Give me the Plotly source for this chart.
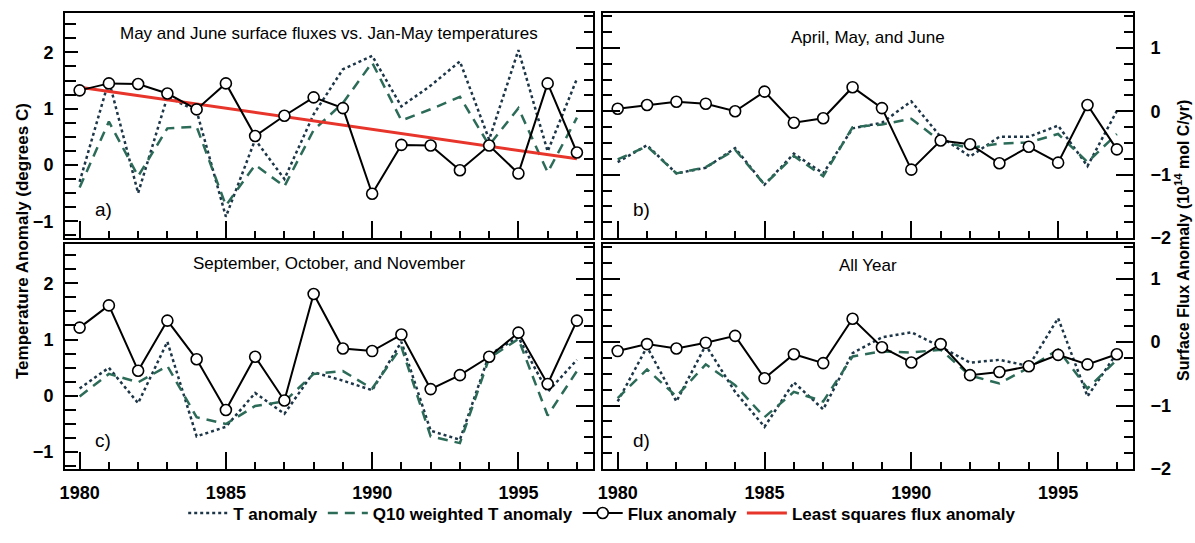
import plotly.graph_objects as go

years = list(range(1980, 1998))

# Panel a: May and June surface fluxes vs. Jan-May temperatures
a_T = [-0.3, 1.5, -0.5, 1.21, 0.96, -0.92, 0.45, -0.25, 0.9, 1.70, 1.94, 1.04, 1.41, 1.84, 0.45, 2.04, 0.24, 1.53]
a_Q = [-0.4, 0.77, -0.2, 0.65, 0.68, -0.72, 0.0, -0.38, 0.62, 1.10, 1.82, 0.79, 0.99, 1.21, 0.35, 1.01, -0.13, 0.84]
a_F = [0.33, 0.44, 0.43, 0.28, 0.03, 0.44, -0.39, -0.07, 0.22, 0.05, -1.30, -0.53, -0.54, -0.93, -0.54, -0.98, 0.44, -0.65]
lsq_years = [1980, 1997]
lsq_flux = [0.38, -0.75]

# Panel b: April, May, and June
b_T = [0.05, 0.35, -0.15, -0.05, 0.3, -0.35, 0.2, -0.15, 0.65, 0.75, 1.13, 0.5, 0.15, 0.5, 0.5, 0.7, -0.02, 0.96]
b_Q = [0.1, 0.33, -0.15, -0.04, 0.27, -0.35, 0.16, -0.2, 0.67, 0.72, 0.82, 0.42, 0.3, 0.38, 0.4, 0.55, 0.05, 0.55]
b_F = [0.04, 0.10, 0.15, 0.12, 0.0, 0.31, -0.18, -0.11, 0.38, 0.05, -0.92, -0.46, -0.52, -0.82, -0.56, -0.81, 0.10, -0.60]

# Panel c: September, October, and November
c_T = [0.13, 0.50, -0.13, 0.96, -0.72, -0.55, 0.05, -0.32, 0.42, 0.27, 0.10, 0.96, -0.62, -0.78, 0.73, 1.04, 0.07, 0.64]
c_Q = [-0.01, 0.39, 0.24, 0.53, -0.38, -0.50, -0.18, -0.10, 0.39, 0.44, 0.13, 0.87, -0.72, -0.84, 0.67, 1.01, -0.35, 0.44]
c_F = [0.23, 0.58, -0.45, 0.34, -0.27, -1.07, -0.23, -0.92, 0.76, -0.10, -0.14, 0.12, -0.74, -0.52, -0.23, 0.15, -0.66, 0.34]

# Panel d: All Year
d_T = [-0.10, 0.87, -0.10, 0.90, 0.07, -0.55, 0.24, -0.24, 0.76, 1.04, 1.13, 0.87, 0.59, 0.64, 0.53, 1.38, -0.01, 0.76]
d_Q = [-0.04, 0.47, -0.01, 0.56, 0.19, -0.38, 0.07, -0.10, 0.70, 0.79, 0.77, 0.82, 0.36, 0.22, 0.50, 0.82, 0.13, 0.64]
d_F = [-0.14, -0.03, -0.10, -0.01, 0.10, -0.57, -0.19, -0.33, 0.37, -0.08, -0.32, -0.03, -0.52, -0.47, -0.38, -0.20, -0.35, -0.19]

panel_titles = ["May and June surface fluxes vs. Jan-May temperatures",
                "April, May, and June",
                "September, October, and November",
                "All Year"]
panel_letters = ["a)", "b)", "c)", "d)"]
x_ticks = [1980, 1985, 1990, 1995]

T_COL = "#1c3648"
Q_COL = "#2b6b57"
F_COL = "#000000"
R_COL = "#e8352b"
FONT = "Liberation Sans, Arial, Helvetica, sans-serif"

panels = [(a_T, a_Q, a_F), (b_T, b_Q, b_F), (c_T, c_Q, c_F), (d_T, d_Q, d_F)]

fig = go.Figure()
for i, (T, Q, F) in enumerate(panels):
    xa = "x" if i == 0 else f"x{i+1}"
    yT = "y" if i == 0 else f"y{2*i+1}"
    yF = f"y{2*i+2}"
    show = (i == 0)
    fig.add_trace(go.Scatter(x=years, y=T, xaxis=xa, yaxis=yT, mode="lines",
                             line=dict(color=T_COL, width=2.5, dash="3px,3px"),
                             name="T anomaly", showlegend=show, legendrank=1))
    fig.add_trace(go.Scatter(x=years, y=Q, xaxis=xa, yaxis=yT, mode="lines",
                             line=dict(color=Q_COL, width=2.5, dash="10px,7px"),
                             name="Q10 weighted T anomaly", showlegend=show, legendrank=2))
    if i == 0:
        fig.add_trace(go.Scatter(x=lsq_years, y=lsq_flux, xaxis=xa, yaxis=yF, mode="lines",
                                 line=dict(color=R_COL, width=3),
                                 name="Least squares flux anomaly", showlegend=True, legendrank=4))
    fig.add_trace(go.Scatter(x=years, y=F, xaxis=xa, yaxis=yF, mode="lines+markers",
                             line=dict(color=F_COL, width=2),
                             marker=dict(symbol="circle", size=11, color="white",
                                         line=dict(color="black", width=1.6)),
                             name="Flux anomaly", showlegend=show, legendrank=3))

W, H = 1195, 543
L, R, Tm, B = 65, 62, 13, 56
PW, PH = W - L - R, H - Tm - B
xdom_left = [0, (593 - L) / PW]
xdom_right = [(603 - L) / PW, 1]
ydom_top = [(H - B - 247) / PH, 1]
ydom_bot = [0, (H - B - 253) / PH]

tickfont = dict(family=FONT, size=18, color="black", weight="bold")

def xaxis_cfg(dom, anchor, labels):
    return dict(domain=dom, anchor=anchor, range=[1979.5, 1997.55],
                tickmode="array", tickvals=x_ticks, ticktext=[str(v) for v in x_ticks],
                ticks="inside", ticklen=17, tickwidth=2, tickcolor="black",
                minor=dict(ticks="inside", ticklen=7, tickwidth=2, tickcolor="black", dtick=1, tick0=1980),
                showticklabels=labels, tickfont=tickfont, ticklabelstandoff=6,
                showline=True, linewidth=2, linecolor="black", mirror=True,
                showgrid=False, zeroline=False)

def tax_cfg(dom, anchor, visible):
    if not visible:
        return dict(domain=dom, anchor=anchor, range=[-1.3, 2.7], visible=False)
    return dict(domain=dom, anchor=anchor, range=[-1.3, 2.7], dtick=1, tick0=0,
                ticks="inside", ticklen=13, tickwidth=2, tickcolor="black",
                minor=dict(ticks="inside", ticklen=11, tickwidth=2, tickcolor="black", dtick=0.25),
                showticklabels=True, tickfont=tickfont, ticklabelstandoff=6,
                showline=True, linewidth=2, linecolor="black", mirror=True,
                showgrid=False, zeroline=False)

def fax_cfg(overlay, anchor, labels):
    cfg = dict(overlaying=overlay, anchor=anchor, side="right", range=[-2, 1.55],
               dtick=1, tick0=0, ticks="inside", ticklen=17, tickwidth=2, tickcolor="black",
               minor=dict(ticks="inside", ticklen=9, tickwidth=2, tickcolor="black", dtick=0.25),
               showticklabels=labels, tickfont=tickfont, ticklabelstandoff=12,
               showgrid=False, zeroline=False)
    if labels:
        cfg.update(showline=True, linewidth=2, linecolor="black", mirror="ticks")
    else:
        cfg.update(showline=False)
    return cfg

layout = dict(
    width=W, height=H,
    margin=dict(l=L, r=R, t=Tm, b=B, pad=0),
    paper_bgcolor="white", plot_bgcolor="white",
    xaxis=xaxis_cfg(xdom_left, "y", False),
    xaxis2=xaxis_cfg(xdom_right, "y3", False),
    xaxis3=xaxis_cfg(xdom_left, "y5", True),
    xaxis4=xaxis_cfg(xdom_right, "y7", True),
    yaxis=tax_cfg(ydom_top, "x", True),
    yaxis2=fax_cfg("y", "x", False),
    yaxis3=tax_cfg(ydom_top, "x2", False),
    yaxis4=fax_cfg("y3", "x2", True),
    yaxis5=tax_cfg(ydom_bot, "x3", True),
    yaxis6=fax_cfg("y5", "x3", False),
    yaxis7=tax_cfg(ydom_bot, "x4", False),
    yaxis8=fax_cfg("y7", "x4", True),
    showlegend=True,
    legend=dict(orientation="h", x=0.503, xanchor="center", y=-0.058, yanchor="top",
                font=dict(family=FONT, size=17, color="black", weight="bold"),
                bgcolor="rgba(0,0,0,0)", traceorder="normal", itemwidth=40),
)
fig.update_layout(**layout)

xrefs = ["x", "x2", "x3", "x4"]
yrefs = ["y", "y3", "y5", "y7"]
title_shift = [-20, -24, -20, -22]
for i in range(4):
    fig.add_annotation(text=panel_titles[i], xref=f"{xrefs[i]} domain", yref=f"{yrefs[i]} domain",
                       x=0.5, y=1, yshift=title_shift[i], xanchor="center", yanchor="middle",
                       showarrow=False, font=dict(family=FONT, size=17, color="black"))
    fig.add_annotation(text=panel_letters[i], xref=f"{xrefs[i]} domain", yref=f"{yrefs[i]} domain",
                       x=0, y=0, xshift=28, yshift=29, xanchor="left", yanchor="middle",
                       showarrow=False, font=dict(family=FONT, size=19, color="black"))

fig.add_annotation(text="Temperature Anomaly (degrees C)", xref="paper", yref="paper",
                   x=0, y=0.5, xshift=-43, textangle=-90, showarrow=False,
                   xanchor="center", yanchor="middle",
                   font=dict(family=FONT, size=17, color="black", weight="bold"))
fig.add_annotation(text="Surface Flux Anomaly (10<sup>14</sup> mol C/yr)", xref="paper", yref="paper",
                   x=1, y=0.5, xshift=49, textangle=-90, showarrow=False,
                   xanchor="center", yanchor="middle",
                   font=dict(family=FONT, size=16, color="black", weight="bold"))

fig.write_html("out.html")
